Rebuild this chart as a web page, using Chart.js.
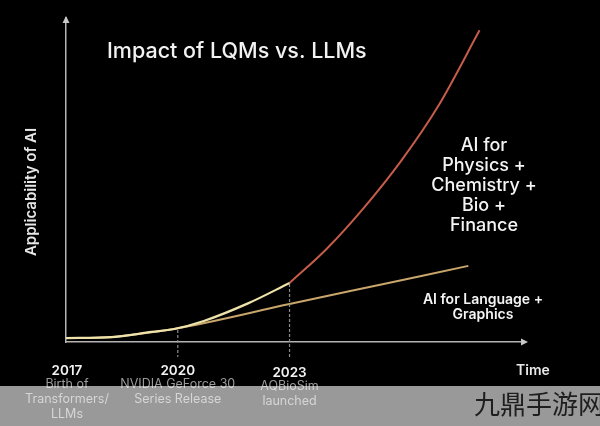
<!DOCTYPE html>
<html><head><meta charset="utf-8">
<script src="https://cdn.jsdelivr.net/npm/chart.js@4"></script>
<style>html,body{margin:0;padding:0;background:#000;}canvas{display:block;}</style>
</head><body>
<canvas id="c" width="600" height="426"></canvas>
<script>
// ---- data ----
const tickYears = [2017, 2020, 2023];
const tickTitles = ['2017', '2020', '2023'];
const tickNotes = [['Birth of', 'Transformers/', 'LLMs'], ['NVIDIA GeForce 30', 'Series Release'], ['AQBioSim', 'launched']];

const lqmPreX = [2017, 2018.2, 2019.3, 2019.9, 2020.7, 2021.9, 2023];
const lqmPreY = [1.2, 1.5, 3.1, 4.0, 6.5, 12.0, 18.2];
const lqmPostX = [2023, 2024, 2025, 2026, 2027, 2028.1];
const lqmPostY = [18.2, 28.8, 41.5, 56.0, 73.0, 96.2];
const llmX = [2017, 2018.2, 2019.3, 2019.9, 2023, 2025.4, 2027.8];
const llmY = [1.2, 1.5, 3.0, 4.0, 11.7, 17.6, 23.5];

const titleText = 'Impact of LQMs vs. LLMs';
const yAxisText = 'Applicability of AI';
const xAxisText = 'Time';
const lqmLabel = ['AI for', 'Physics +', 'Chemistry +', 'Bio +', 'Finance'];
const llmLabel = ['AI for Language +', 'Graphics'];
const watermark = '九鼎手游网';

const pts = (xs, ys) => xs.map((x, i) => ({x: x, y: ys[i]}));
const FONT = 'Inter, "Open Sans", sans-serif';

const decor = {
  id: 'decor',
  beforeDraw(chart) {
    const ctx = chart.ctx;
    ctx.save();
    ctx.fillStyle = '#000';
    ctx.fillRect(0, 0, chart.width, chart.height);
    ctx.restore();
  },
  afterDraw(chart) {
    const ctx = chart.ctx;
    const xs = chart.scales.x, ys = chart.scales.y;
    const a = chart.chartArea;
    ctx.save();
    // arrows
    ctx.fillStyle = '#c8c8c8';
    ctx.beginPath();
    ctx.moveTo(a.left, a.top - 2); ctx.lineTo(a.left - 3.5, a.top + 5); ctx.lineTo(a.left + 3.5, a.top + 5); ctx.closePath(); ctx.fill();
    ctx.beginPath();
    ctx.moveTo(a.right + 3, a.bottom); ctx.lineTo(a.right - 4, a.bottom - 3.5); ctx.lineTo(a.right - 4, a.bottom + 3.5); ctx.closePath(); ctx.fill();

    // dashed tick lines
    const upper = chart.getDatasetMeta(0).data;
    ctx.strokeStyle = '#8a8a8a';
    ctx.lineWidth = 1.2;
    ctx.setLineDash([3, 2]);
    tickYears.forEach((yr, i) => {
      if (i === 0) return;
      const px = xs.getPixelForValue(yr);
      let best = null, bd = 1e9;
      upper.forEach(p => { const d = Math.abs(p.x - px); if (d < bd) { bd = d; best = p; } });
      ctx.beginPath();
      ctx.moveTo(px, best.y + 1);
      ctx.lineTo(px, a.bottom + 15);
      ctx.stroke();
    });
    ctx.setLineDash([]);

    // title
    ctx.fillStyle = '#f2f2f2';
    ctx.textAlign = 'left';
    ctx.textBaseline = 'alphabetic';
    ctx.font = '500 21.5px ' + FONT;
    ctx.fillText(titleText, 107, 58);

    // y axis title
    ctx.save();
    ctx.translate(36, 192);
    ctx.rotate(-Math.PI / 2);
    ctx.textAlign = 'center';
    ctx.font = '600 15px ' + FONT;
    ctx.fillStyle = '#e8e8e8';
    ctx.fillText(yAxisText, 0, 0);
    ctx.restore();

    // x axis title
    ctx.textAlign = 'center';
    ctx.font = '600 14px ' + FONT;
    ctx.fillStyle = '#e8e8e8';
    ctx.fillText(xAxisText, 533, 375);

    // series labels
    ctx.font = '500 18px ' + FONT;
    ctx.fillStyle = '#f4f4f4';
    lqmLabel.forEach((t, i) => ctx.fillText(t, 484, 151 + i * 20));
    ctx.font = '600 14px ' + FONT;
    llmLabel.forEach((t, i) => ctx.fillText(t, 483, 304 + i * 15));

    // tick labels
    tickYears.forEach((yr, i) => {
      const px = xs.getPixelForValue(yr) + (i === 0 ? 1 : 0);
      const off = i === 2 ? 2 : 0;
      ctx.font = '600 13.5px ' + FONT;
      ctx.fillStyle = '#f2f2f2';
      ctx.fillText(tickTitles[i], px, 375 + off);
      ctx.font = '400 12.5px ' + FONT;
      ctx.fillStyle = '#9a9a9a';
      tickNotes[i].forEach((t, j) => ctx.fillText(t, px, 388 + off + j * 15));
    });

    // watermark band
    ctx.fillStyle = 'rgba(255,255,255,0.6)';
    ctx.fillRect(0, 386, chart.width, chart.height - 386);
    ctx.textAlign = 'left';
    ctx.fillStyle = '#1e1e1e';
    ctx.font = '400 26px "Noto Sans CJK SC", sans-serif';
    ctx.fillText(watermark, 474, 414);
    ctx.restore();
  }
};

new Chart(document.getElementById('c'), {
  type: 'line',
  data: {
    datasets: [
      { label: 'LQMs (to 2023)', data: pts(lqmPreX, lqmPreY), borderColor: '#efe3ac', borderWidth: 2.2, pointRadius: 0, cubicInterpolationMode: 'monotone', order: 1 },
      { label: 'LQMs', data: pts(lqmPostX, lqmPostY), borderColor: '#c65c4a', borderWidth: 2, pointRadius: 0, cubicInterpolationMode: 'monotone', order: 2 },
      { label: 'LLMs', data: pts(llmX, llmY), borderColor: '#c9a66b', borderWidth: 2, pointRadius: 0, cubicInterpolationMode: 'monotone', order: 3 }
    ]
  },
  options: {
    responsive: false,
    animation: false,
    devicePixelRatio: 1,
    layout: { padding: { left: 66, top: 18, right: 75, bottom: 84 } },
    plugins: { legend: { display: false }, tooltip: { enabled: false }, title: { display: false } },
    scales: {
      x: { type: 'linear', min: 2017, max: 2029.32, grid: { display: false }, ticks: { display: false },
           border: { display: true, color: '#b4b4b4', width: 1.5 }, afterFit(s) { s.height = 0; } },
      y: { min: 0, max: 100, grid: { display: false }, ticks: { display: false },
           border: { display: true, color: '#b4b4b4', width: 1.5 }, afterFit(s) { s.width = 0; } }
    }
  },
  plugins: [decor]
});
</script>
</body></html>
